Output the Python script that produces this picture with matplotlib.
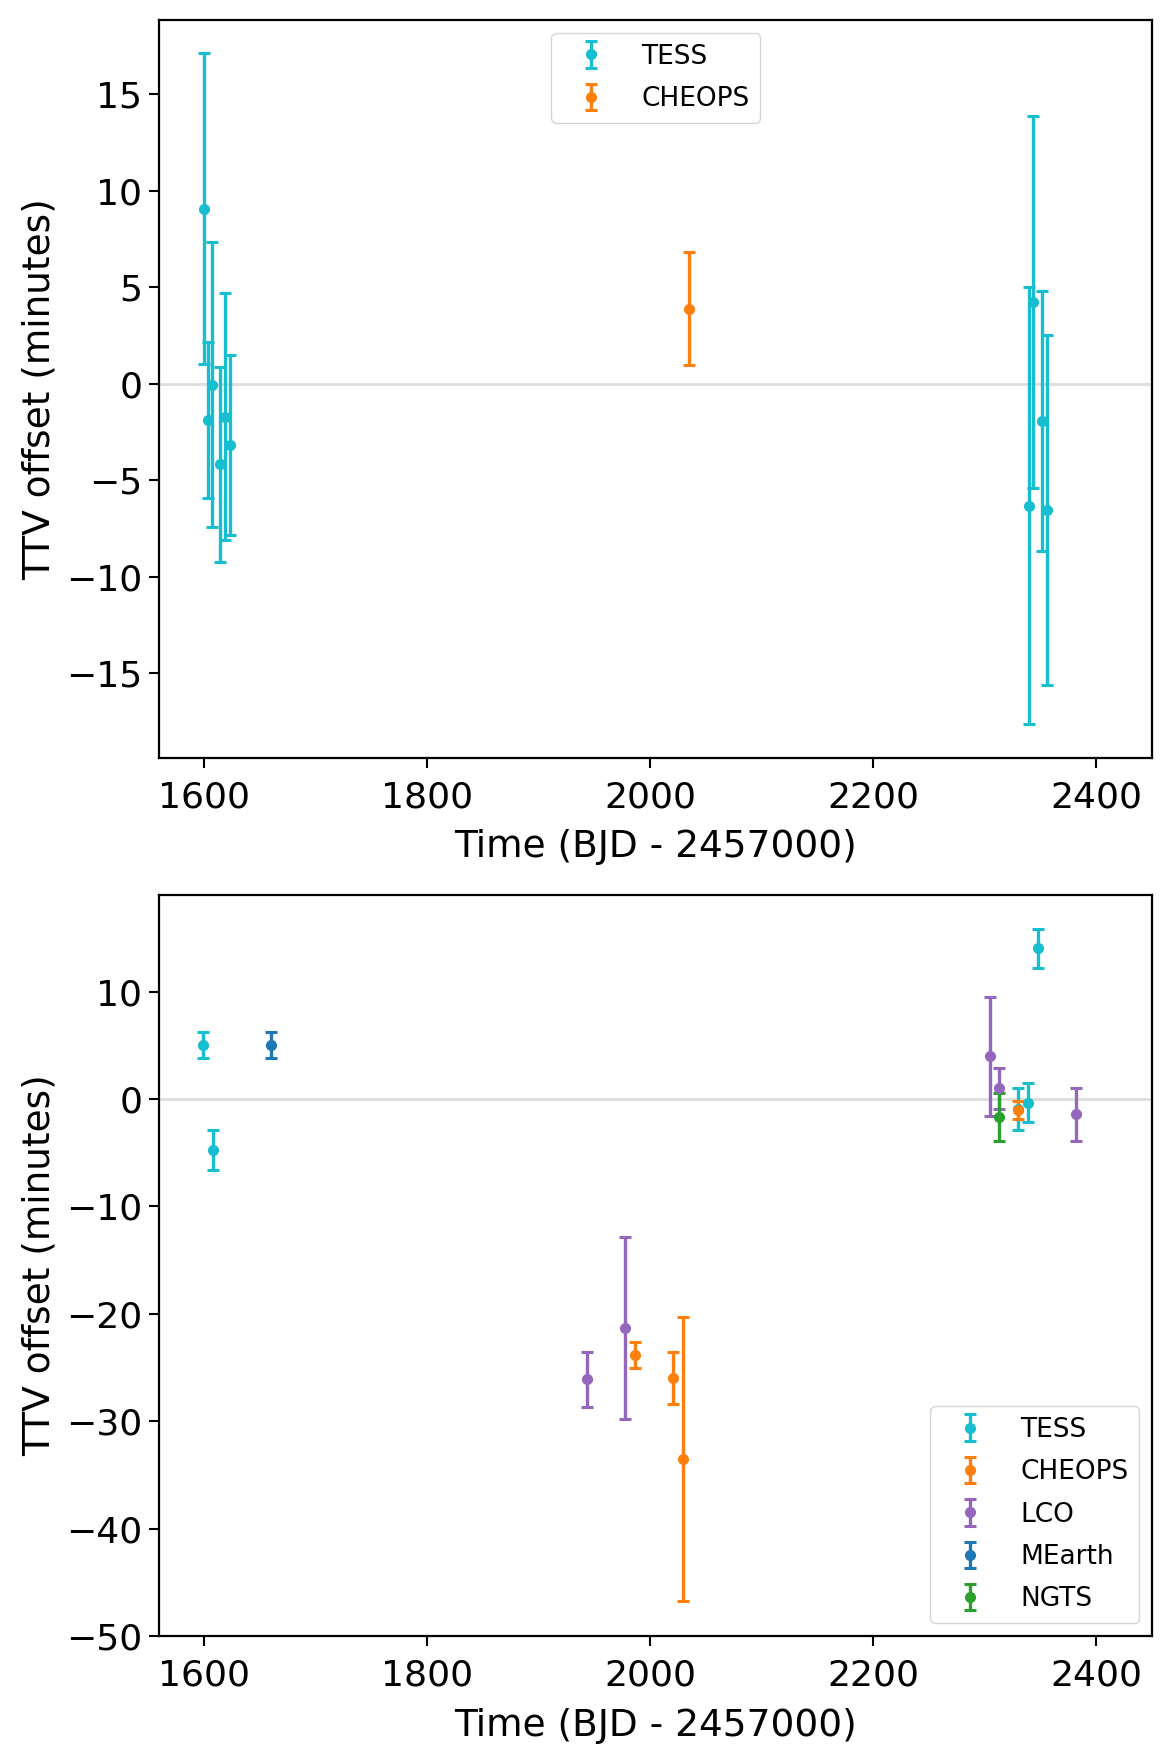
import matplotlib
matplotlib.use("Agg")
import matplotlib.pyplot as plt

# ---------------- data: top panel ----------------
top_tess_t = [1600.0, 1603.6, 1607.4, 1615.0, 1618.8, 1623.3,
              2340.1, 2343.6, 2351.2, 2355.7]
top_tess_y = [9.07, -1.88, -0.05, -4.17, -1.70, -3.19,
              -6.31, 4.24, -1.94, -6.56]
top_tess_e = [8.04, 4.03, 7.37, 5.06, 6.41, 4.67,
              11.34, 9.65, 6.73, 9.07]

top_cheops_t = [2035.0]
top_cheops_y = [3.88]
top_cheops_e = [2.93]

# ---------------- data: bottom panel ----------------
bot_tess_t = [1599.7, 1608.3, 2330.0, 2338.7, 2347.4]
bot_tess_y = [5.03, -4.72, -0.90, -0.34, 14.04]
bot_tess_e = [1.20, 1.88, 1.96, 1.79, 1.83]

bot_cheops_t = [1986.9, 2021.0, 2029.6, 2330.0]
bot_cheops_y = [-23.8, -26.0, -33.5, -1.02]
bot_cheops_e = [1.20, 2.42, 13.25, 0.84]

bot_lco_t = [1943.5, 1977.9, 2304.3, 2313.0, 2381.4]
bot_lco_y = [-26.1, -21.3, 3.98, 0.99, -1.43]
bot_lco_e = [2.55, 8.48, 5.54, 1.90, 2.47]

bot_mearth_t = [1660.1]
bot_mearth_y = [5.06]
bot_mearth_e = [1.20]

bot_ngts_t = [2313.0]
bot_ngts_y = [-1.71]
bot_ngts_e = [2.24]

XLIM = (1560, 2450)
XLABEL = "Time (BJD - 2457000)"
YLABEL = "TTV offset (minutes)"

C_TESS = "#17becf"
C_CHEOPS = "#ff7f0e"
C_LCO = "#9467bd"
C_MEARTH = "#1f77b4"
C_NGTS = "#2ca02c"

plt.rcParams["font.family"] = ["DejaVu Sans"]

fig = plt.figure(figsize=(11.72, 17.5), dpi=100)
ax1 = fig.add_axes([0.1357, 0.5669, 0.8473, 0.4217])
ax2 = fig.add_axes([0.1357, 0.0651, 0.8473, 0.4235])

ekw = dict(fmt="o", ms=7, lw=2.4, capsize=4.5, capthick=2.2)
lkw = dict(fontsize=19, framealpha=0.8, labelspacing=0.62, handlelength=2.2)


def style(ax):
    ax.axhline(0, color="#dddddd", lw=2, zorder=0)
    ax.set_xlim(*XLIM)
    ax.set_xticks([1600, 1800, 2000, 2200, 2400])
    ax.tick_params(labelsize=26, length=7, width=1.5)
    ax.tick_params(axis="x", pad=9)
    ax.tick_params(axis="y", pad=5)
    for s in ax.spines.values():
        s.set_linewidth(1.6)
    ax.set_xlabel(XLABEL, fontsize=27, labelpad=11)
    ax.set_ylabel(YLABEL, fontsize=27, labelpad=6)


ax1.errorbar(top_tess_t, top_tess_y, yerr=top_tess_e, color=C_TESS, label="TESS", **ekw)
ax1.errorbar(top_cheops_t, top_cheops_y, yerr=top_cheops_e, color=C_CHEOPS, label="CHEOPS", **ekw)
style(ax1)
ax1.set_yticks([-15, -10, -5, 0, 5, 10, 15])
ax1.legend(loc="upper center", **lkw)

ax2.errorbar(bot_tess_t, bot_tess_y, yerr=bot_tess_e, color=C_TESS, label="TESS", **ekw)
ax2.errorbar(bot_cheops_t, bot_cheops_y, yerr=bot_cheops_e, color=C_CHEOPS, label="CHEOPS", **ekw)
ax2.errorbar(bot_lco_t, bot_lco_y, yerr=bot_lco_e, color=C_LCO, label="LCO", **ekw)
ax2.errorbar(bot_mearth_t, bot_mearth_y, yerr=bot_mearth_e, color=C_MEARTH, label="MEarth", **ekw)
ax2.errorbar(bot_ngts_t, bot_ngts_y, yerr=bot_ngts_e, color=C_NGTS, label="NGTS", **ekw)
style(ax2)
ax2.set_yticks([-50, -40, -30, -20, -10, 0, 10])
ax2.legend(loc="lower right", **lkw)

fig.savefig("out.png", dpi=100)
